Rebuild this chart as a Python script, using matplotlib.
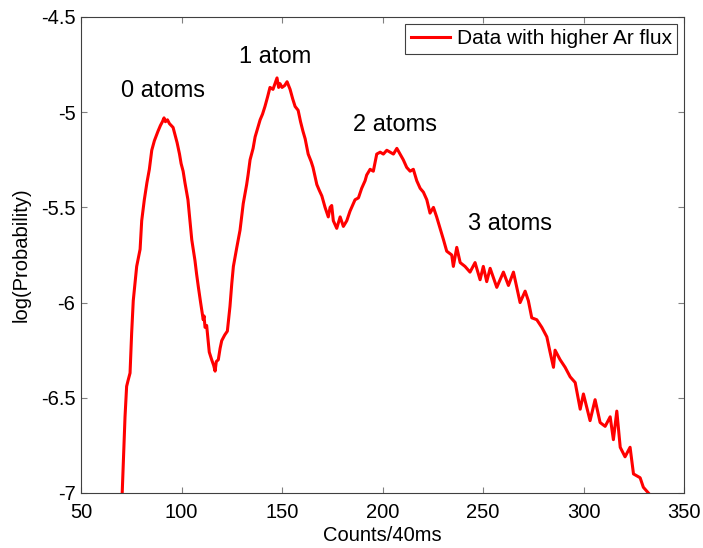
# Atom-number histogram (log probability vs counts)

import matplotlib
matplotlib.use("Agg")
import matplotlib.pyplot as plt

plt.rcParams['font.family'] = ['Liberation Sans', 'DejaVu Sans']

# --- DATA ---
counts = [70.5, 71.9, 72.7, 73.4, 74.4, 75.2, 76.0, 77.7, 79.4, 80.2,
          81.5, 82.8, 84.0, 85.2, 86.5, 88.3, 89.5, 90.5, 91.3, 92.0,
          93.0, 94.0, 95.8, 96.8, 97.8, 99.0, 99.8, 100.8, 101.7, 103.2,
          104.2, 105.1, 106.7, 107.5, 108.4, 109.5, 110.8, 111.2, 111.7, 112.5,
          113.8, 115.0, 116.0, 116.7, 117.3, 118.3, 119.2, 120.0, 121.5, 122.8,
          124.1, 125.0, 125.8, 127.5, 129.1, 130.7, 132.4, 133.1, 134.1, 135.6,
          136.6, 138.0, 139.1, 140.3, 141.5, 142.8, 144.0, 145.5, 146.5, 147.5,
          148.3, 149.0, 150.0, 151.3, 152.5, 154.0, 155.3, 156.5, 158.0, 159.2,
          160.4, 161.5, 163.0, 164.5, 165.4, 167.3, 168.5, 169.8, 171.4, 173.0,
          173.9, 174.7, 175.5, 177.2, 178.9, 180.5, 182.2, 183.8, 186.3, 188.0,
          189.6, 191.3, 192.1, 193.8, 195.4, 197.1, 198.8, 200.4, 202.1, 203.7,
          205.4, 207.1, 208.7, 210.3, 212.0, 213.7, 215.3, 217.0, 218.7, 220.3,
          222.0, 223.6, 225.3, 226.9, 228.6, 230.3, 231.9, 234.4, 235.2, 236.9,
          238.6, 241.0, 243.5, 246.0, 248.5, 250.1, 251.8, 253.5, 256.8, 260.1,
          262.6, 265.1, 268.4, 270.9, 272.5, 274.2, 276.7, 279.2, 281.7, 283.3,
          285.0, 285.8, 288.3, 290.8, 293.3, 295.8, 298.3, 299.9, 303.2, 305.7,
          308.2, 310.7, 313.2, 314.8, 316.5, 318.2, 320.6, 323.1, 324.8, 328.1,
          329.7, 332.2]
log_prob = [-7.00, -6.60, -6.44, -6.41, -6.37, -6.16, -5.99, -5.81, -5.72, -5.57,
            -5.46, -5.37, -5.30, -5.20, -5.15, -5.10, -5.07, -5.05, -5.03, -5.05,
            -5.04, -5.06, -5.08, -5.12, -5.16, -5.22, -5.27, -5.31, -5.37, -5.46,
            -5.57, -5.67, -5.78, -5.85, -5.92, -6.00, -6.09, -6.07, -6.13, -6.12,
            -6.26, -6.30, -6.33, -6.36, -6.31, -6.30, -6.24, -6.20, -6.17, -6.15,
            -6.02, -5.90, -5.81, -5.71, -5.62, -5.48, -5.38, -5.33, -5.25, -5.19,
            -5.13, -5.08, -5.04, -5.01, -4.97, -4.92, -4.87, -4.88, -4.85, -4.82,
            -4.87, -4.85, -4.87, -4.86, -4.84, -4.88, -4.93, -4.97, -4.99, -5.05,
            -5.10, -5.14, -5.22, -5.26, -5.29, -5.38, -5.41, -5.44, -5.50, -5.55,
            -5.50, -5.49, -5.57, -5.61, -5.55, -5.60, -5.57, -5.52, -5.46, -5.45,
            -5.40, -5.36, -5.33, -5.30, -5.31, -5.22, -5.21, -5.22, -5.20, -5.21,
            -5.22, -5.19, -5.22, -5.25, -5.29, -5.31, -5.30, -5.36, -5.40, -5.42,
            -5.46, -5.53, -5.50, -5.55, -5.61, -5.67, -5.73, -5.75, -5.81, -5.71,
            -5.79, -5.81, -5.84, -5.79, -5.88, -5.81, -5.89, -5.82, -5.92, -5.84,
            -5.91, -5.84, -6.00, -5.94, -5.99, -6.08, -6.09, -6.13, -6.18, -6.26,
            -6.34, -6.25, -6.30, -6.34, -6.39, -6.42, -6.56, -6.48, -6.62, -6.51,
            -6.63, -6.65, -6.60, -6.72, -6.57, -6.76, -6.81, -6.76, -6.90, -6.92,
            -6.97, -7.00]

peak_labels = ["0 atoms", "1 atom", "2 atoms", "3 atoms"]
label_x = [69.8, 128.8, 185.2, 242.7]
label_y = [-4.919, -4.743, -5.099, -5.619]

# --- PLOT ---
fig = plt.figure(figsize=(7.03, 5.48), dpi=100)
ax = fig.add_axes([0.1152, 0.1004, 0.858, 0.8686])

ax.plot(counts, log_prob, color='red', linewidth=2.2, label="Data with higher Ar flux")

for txt, tx, ty in zip(peak_labels, label_x, label_y):
    ax.text(tx, ty, txt, fontsize=17, ha='left', va='baseline')

ax.set_xlim(50, 350)
ax.set_ylim(-7, -4.5)
ax.set_xticks([50, 100, 150, 200, 250, 300, 350])
ax.set_yticks([-7, -6.5, -6, -5.5, -5, -4.5])
ax.set_yticklabels(["-7", "-6.5", "-6", "-5.5", "-5", "-4.5"])

ax.tick_params(direction='in', length=4.3, width=0.8, color='#808080',
               top=True, right=True, labelsize=14.5, pad=4)
ax.tick_params(axis='x', pad=7)
for sp in ax.spines.values():
    sp.set_color('#404040')
    sp.set_linewidth(0.8)

ax.set_xlabel("Counts/40ms", fontsize=14.5, labelpad=3)
ax.set_ylabel("log(Probability)", fontsize=14.5, labelpad=7)

leg = ax.legend(loc='upper right', fontsize=15, fancybox=False, framealpha=1,
                edgecolor='#404040', handlelength=1.9, handletextpad=0.3,
                borderpad=0.25, borderaxespad=0.35)
leg.get_frame().set_linewidth(0.8)

fig.savefig("out.png", dpi=100)
